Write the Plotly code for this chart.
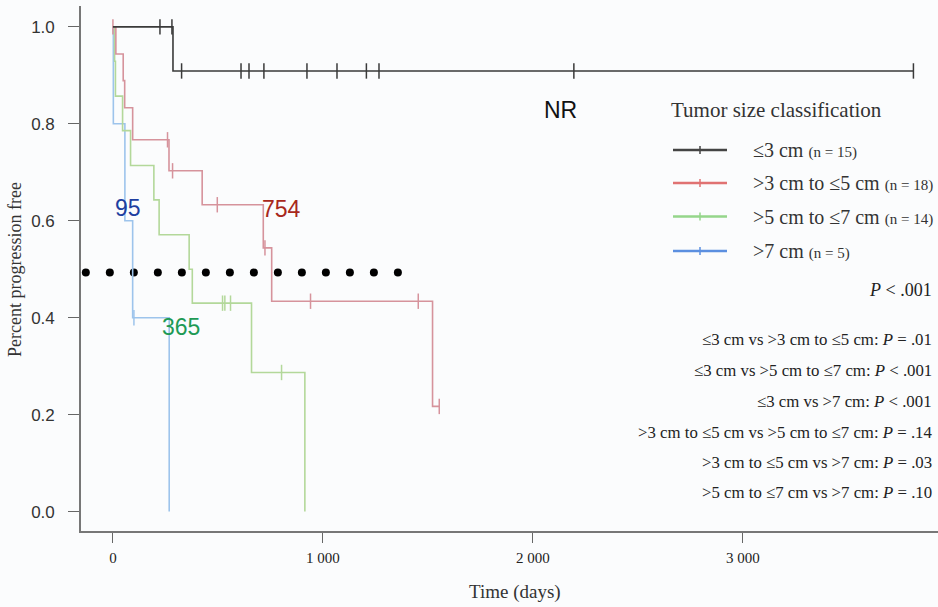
import numpy as np
import plotly.graph_objects as go

# ---------------- data ----------------
groups = ["≤3 cm", ">3 cm to ≤5 cm", ">5 cm to ≤7 cm", ">7 cm"]
group_n = [15, 18, 14, 5]

# Kaplan-Meier step curves (time in days, survival probability)
t_le3 = [0, 286, 3812]
s_le3 = [1.0, 0.909, 0.909]
c_le3 = [224, 281, 327, 610, 648, 719, 924, 1067, 1207, 1267, 2195, 3812]

t_3to5 = [0, 14, 49, 56, 94, 267, 425, 716, 756, 1522, 1554]
s_3to5 = [1.0, 0.944, 0.889, 0.833, 0.767, 0.703, 0.633, 0.544, 0.434, 0.217, 0.217]
c_3to5 = [0, 260, 284, 497, 724, 941, 1454, 1554]

t_5to7 = [0, 8, 12, 46, 84, 195, 220, 363, 378, 660, 914]
s_5to7 = [1.0, 0.929, 0.857, 0.786, 0.714, 0.643, 0.571, 0.5, 0.43, 0.287, 0.0]
c_5to7 = [522, 533, 560, 803]

t_gt7 = [0, 2, 57, 94, 268]
s_gt7 = [1.0, 0.8, 0.6, 0.4, 0.0]
c_gt7 = [100]

median_labels = ["NR", "754", "365", "95"]
median_label_x = [2133, 805, 324, 71]
median_label_y = [0.829, 0.625, 0.381, 0.627]

x_tickvals = [0, 1000, 2000, 3000]
x_ticktext = ["0", "1 000", "2 000", "3 000"]
y_tickvals = [0.0, 0.2, 0.4, 0.6, 0.8, 1.0]
y_ticktext = ["0.0", "0.2", "0.4", "0.6", "0.8", "1.0"]

legend_title = "Tumor size classification"
overall_p = "<i>P</i> < .001"
pairwise_p = [
    "≤3 cm vs >3 cm to ≤5 cm: <i>P</i> = .01",
    "≤3 cm vs >5 cm to ≤7 cm: <i>P</i> < .001",
    "≤3 cm vs >7 cm: <i>P</i> < .001",
    ">3 cm to ≤5 cm vs >5 cm to ≤7 cm: <i>P</i> = .14",
    ">3 cm to ≤5 cm vs >7 cm: <i>P</i> = .03",
    ">5 cm to ≤7 cm vs >7 cm: <i>P</i> = .10",
]

median_ref_level = 0.493
median_ref_from, median_ref_to, median_ref_dots = -129, 1357, 14

# ---------------- styling ----------------
curve_colors = ["#3a3a3a", "#d6939c", "#b3d89a", "#9dc4ec"]
legend_colors = ["#444444", "#e07272", "#95d68a", "#5b8fe0"]
label_colors = ["#111111", "#a8281c", "#1e9a55", "#1f3fa0"]
SERIF = "Liberation Serif"
SANS = "Liberation Sans"
BG = "#fbfcfd"

# plot area in pixels: x 81..938, y 6..531
def px_x(px):
    return (px - 81) / 857.0


def px_y(py):
    return (531 - py) / 525.0


def step_value(times, surv, t):
    idx = np.searchsorted(np.asarray(times), t, side="right") - 1
    return float(surv[max(idx, 0)])


curves = [
    (t_le3, s_le3, c_le3),
    (t_3to5, s_3to5, c_3to5),
    (t_5to7, s_5to7, c_5to7),
    (t_gt7, s_gt7, c_gt7),
]

fig = go.Figure()

# median reference dotted line
fig.add_trace(go.Scatter(
    x=np.linspace(median_ref_from, median_ref_to, median_ref_dots),
    y=[median_ref_level] * median_ref_dots,
    mode="markers", marker=dict(color="black", size=8),
    showlegend=False, hoverinfo="skip"))

for i in [3, 2, 1, 0]:
    t, s, c = curves[i]
    fig.add_trace(go.Scatter(
        x=t, y=s, mode="lines", line=dict(color=curve_colors[i], width=1.6, shape="hv"),
        name=groups[i], showlegend=False, hoverinfo="skip"))
    fig.add_trace(go.Scatter(
        x=c, y=[step_value(t, s, ci) for ci in c], mode="markers",
        marker=dict(symbol="line-ns", size=11, line=dict(color=curve_colors[i], width=1.5)),
        showlegend=False, hoverinfo="skip"))

annotations = []
shapes = []
for lab, lx, ly, col in zip(median_labels, median_label_x, median_label_y, label_colors):
    annotations.append(dict(x=lx, y=ly, xref="x", yref="y", text=lab, showarrow=False,
                            font=dict(family=SANS, size=23, color=col)))

# legend (drawn manually to match the reference layout)
annotations.append(dict(x=px_x(669), y=px_y(110), xref="paper", yref="paper", text=legend_title,
                        showarrow=False, xanchor="left", yanchor="middle",
                        font=dict(family=SERIF, size=21, color="#333")))
legend_rows = [150, 183, 216.5, 251]
for i, (g, n, ry) in enumerate(zip(groups, group_n, legend_rows)):
    shapes.append(dict(type="line", xref="paper", yref="paper",
                       x0=px_x(673), x1=px_x(727), y0=px_y(ry), y1=px_y(ry),
                       line=dict(color=legend_colors[i], width=2.5)))
    shapes.append(dict(type="line", xref="paper", yref="paper",
                       x0=px_x(700), x1=px_x(700), y0=px_y(ry - 4), y1=px_y(ry + 4),
                       line=dict(color=legend_colors[i], width=1.5)))
    annotations.append(dict(x=px_x(751), y=px_y(ry), xref="paper", yref="paper",
                            text=f"{g} <span style='font-size:15px'>(n = {n})</span>",
                            showarrow=False, xanchor="left", yanchor="middle",
                            font=dict(family=SERIF, size=20, color="#333")))

annotations.append(dict(x=px_x(934), y=px_y(290), xref="paper", yref="paper", text=overall_p,
                        showarrow=False, xanchor="right", yanchor="middle",
                        font=dict(family=SERIF, size=18, color="#222")))
row_y = [339, 370, 401, 432, 462, 492]
for txt, ry in zip(pairwise_p, row_y):
    annotations.append(dict(x=px_x(934), y=px_y(ry), xref="paper", yref="paper", text=txt,
                            showarrow=False, xanchor="right", yanchor="middle",
                            font=dict(family=SERIF, size=16.8, color="#222")))

annotations.append(dict(x=px_x(515), y=px_y(592), xref="paper", yref="paper", text="Time (days)",
                        showarrow=False, xanchor="center", yanchor="middle",
                        font=dict(family=SERIF, size=19, color="#333")))
annotations.append(dict(x=px_x(15), y=px_y(270), xref="paper", yref="paper",
                        text="Percent progression free", textangle=-90,
                        showarrow=False, xanchor="center", yanchor="middle",
                        font=dict(family=SERIF, size=18, color="#333")))

fig.update_layout(
    width=938, height=607,
    margin=dict(l=81, r=0, t=6, b=76),
    paper_bgcolor=BG, plot_bgcolor=BG,
    annotations=annotations, shapes=shapes,
    showlegend=False,
    xaxis=dict(
        range=[-152, 3929], showgrid=False, zeroline=False,
        showline=True, linecolor="#777", linewidth=1.6,
        ticks="outside", ticklen=10, tickwidth=1.3, tickcolor="#666",
        tickvals=x_tickvals, ticktext=x_ticktext, ticklabelstandoff=2,
        tickfont=dict(family=SERIF, size=15, color="#222"),
    ),
    yaxis=dict(
        range=[-0.04, 1.043], showgrid=False, zeroline=False,
        showline=True, linecolor="#777", linewidth=1.6,
        ticks="outside", ticklen=11, tickwidth=1.3, tickcolor="#666",
        tickvals=y_tickvals, ticktext=y_ticktext, ticklabelstandoff=10,
        tickfont=dict(family=SANS, size=17, color="#333"),
    ),
)

fig.write_html("out.html",
               config={"displayModeBar": False},
               post_script="document.body.style.margin='0';document.body.style.overflow='hidden';")
